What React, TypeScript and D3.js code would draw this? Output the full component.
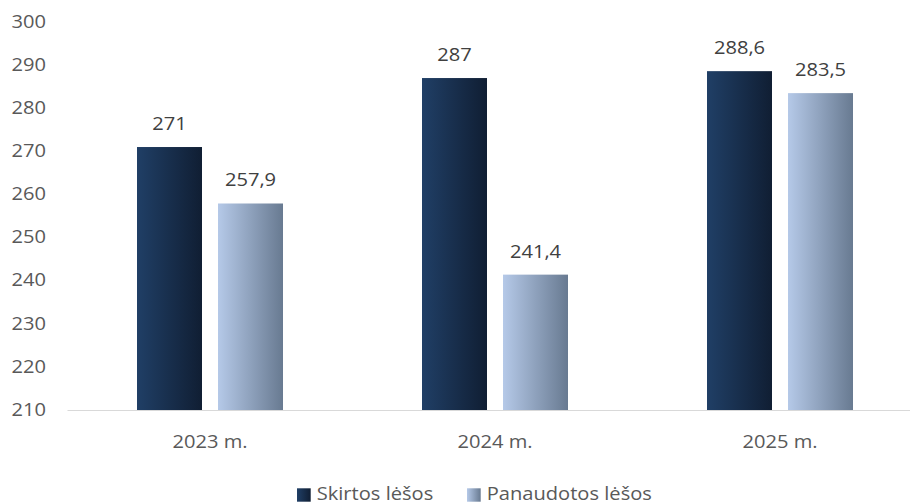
import React from "react";
import * as d3 from "d3";

const categories = ["2023 m.", "2024 m.", "2025 m."];
const seriesNames = ["Skirtos lėšos", "Panaudotos lėšos"];
const skirtos = [271, 287, 288.6];
const panaudotos = [257.9, 241.4, 283.5];
const yTicks = [210, 220, 230, 240, 250, 260, 270, 280, 290, 300];

const W = 910;
const H = 503;
const FONT = "'Open Sans', 'Noto Sans', sans-serif";
const SX = 1.13;

function T(props: { x: number; y: number; anchor?: string; fill: string; children: React.ReactNode }) {
  const { x, y, anchor = "start", fill, children } = props;
  return (
    <text
      transform={`translate(${x},${y}) scale(${SX},1)`}
      textAnchor={anchor}
      fontSize={17.8}
      fill={fill}
    >
      {children}
    </text>
  );
}

export default function App() {
  const x = d3.scaleBand<string>().domain(categories).range([67.5, 922.5]);
  const y = d3.scaleLinear().domain([210, 300]).range([410, 22]);
  const barW = 65;
  const gap = 16;
  const fmt = (v: number) => String(v).replace(".", ",");
  const series = [skirtos, panaudotos];
  const grads = ["gDark", "gLight"];

  return (
    <svg width={W} height={H} style={{ position: "fixed", left: 0, top: 0, background: "#fff" }} fontFamily={FONT}>
      <defs>
        <linearGradient id="gDark" x1="0" x2="1" y1="0" y2="0">
          <stop offset="0" stopColor="#203f66" />
          <stop offset="1" stopColor="#101e33" />
        </linearGradient>
        <linearGradient id="gLight" x1="0" x2="1" y1="0" y2="0">
          <stop offset="0" stopColor="#b5c9e8" />
          <stop offset="1" stopColor="#687a91" />
        </linearGradient>
      </defs>
      {yTicks.map((t) => (
        <T key={t} x={46} y={y(t) + 5.8} anchor="end" fill="#595959">
          {t}
        </T>
      ))}
      {categories.map((c, i) => {
        const cx = (x(c) as number) + x.bandwidth() / 2;
        return (
          <g key={c}>
            {series.map((s, k) => {
              const bx = k === 0 ? cx - gap / 2 - barW : cx + gap / 2;
              return (
                <g key={k}>
                  <rect x={bx} y={y(s[i])} width={barW} height={y(210) - y(s[i])} fill={`url(#${grads[k]})`} />
                  <T x={bx + barW / 2} y={y(s[i]) - 17} anchor="middle" fill="#404040">
                    {fmt(s[i])}
                  </T>
                </g>
              );
            })}
            <T x={cx} y={447.7} anchor="middle" fill="#595959">
              {c}
            </T>
          </g>
        );
      })}
      <line x1={67.5} x2={W} y1={y(210) + 0.5} y2={y(210) + 0.5} stroke="#d9d9d9" strokeWidth={1} />
      <g>
        <rect x={297} y={488.3} width={13.7} height={13.4} fill="url(#gDark)" />
        <T x={316.7} y={499.6} fill="#595959">{seriesNames[0]}</T>
        <rect x={467} y={488.3} width={13.7} height={13.4} fill="url(#gLight)" />
        <T x={486.7} y={499.6} fill="#595959">{seriesNames[1]}</T>
      </g>
    </svg>
  );
}
